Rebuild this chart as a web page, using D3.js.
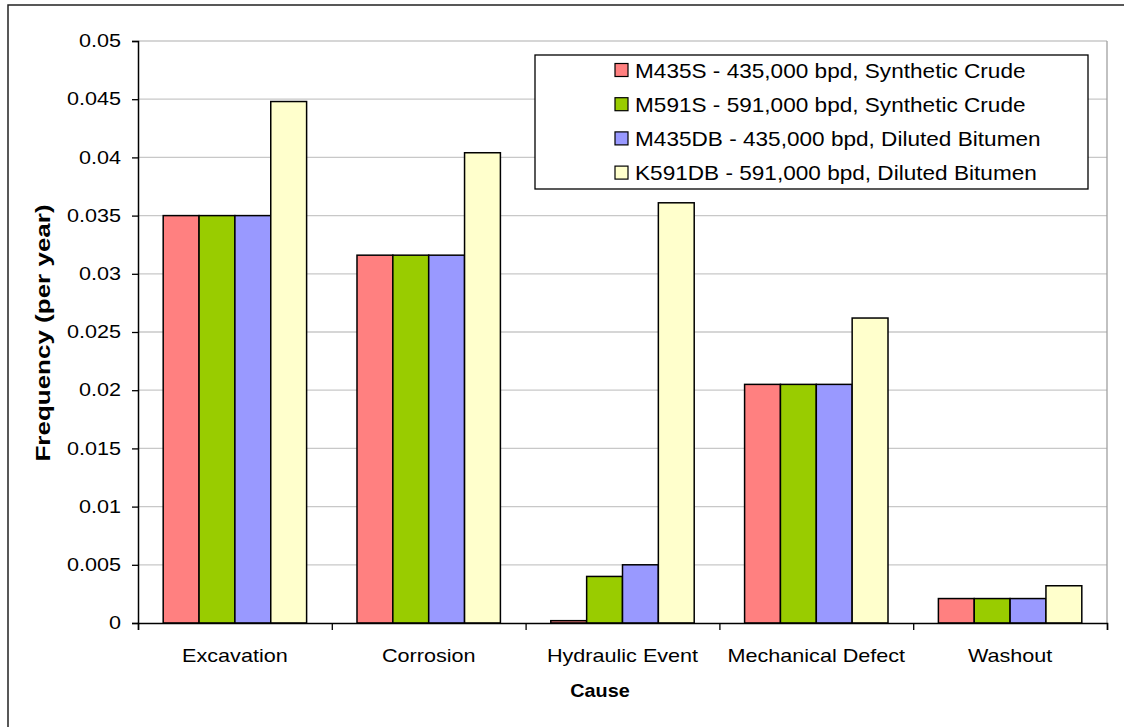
<!DOCTYPE html>
<html>
<head>
<meta charset="utf-8">
<script src="https://cdn.jsdelivr.net/npm/d3@7"></script>
<style>
html, body { margin: 0; padding: 0; background: #fff; }
svg { display: block; font-family: "Liberation Sans", Arial, sans-serif; }
</style>
</head>
<body>
<svg id="chart" width="1124" height="727"></svg>
<script>
// ---- data ----
const categories = ["Excavation", "Corrosion", "Hydraulic Event", "Mechanical Defect", "Washout"];
const seriesNames = [
  "M435S - 435,000 bpd, Synthetic Crude",
  "M591S - 591,000 bpd, Synthetic Crude",
  "M435DB - 435,000 bpd, Diluted Bitumen",
  "K591DB - 591,000 bpd, Diluted Bitumen"
];
const M435S  = [0.035, 0.0316, 0.0002, 0.0205, 0.0021];
const M591S  = [0.035, 0.0316, 0.0040, 0.0205, 0.0021];
const M435DB = [0.035, 0.0316, 0.0050, 0.0205, 0.0021];
const K591DB = [0.0448, 0.0404, 0.0361, 0.0262, 0.0032];
const yTicks = [0, 0.005, 0.01, 0.015, 0.02, 0.025, 0.03, 0.035, 0.04, 0.045, 0.05];
const yTickLabels = ["0", "0.005", "0.01", "0.015", "0.02", "0.025", "0.03", "0.035", "0.04", "0.045", "0.05"];
const colors = ["#FF8080", "#99CC00", "#9999FF", "#FFFFCC"];

const seriesValues = [M435S, M591S, M435DB, K591DB];

// ---- layout ----
const svg = d3.select("#chart");
const pL = 138, pR = 1107, pT = 41, pB = 623;
const SX = 1.2; // horizontal text stretch

// outer border
svg.append("rect")
  .attr("x", 8).attr("y", 5).attr("width", 1140).attr("height", 760)
  .attr("fill", "none").attr("stroke", "#222").attr("stroke-width", 1.5);

const x0 = d3.scaleBand().domain(categories).range([pL, pR])
  .paddingInner(0.26).paddingOuter(0.13);
const x1 = d3.scaleBand().domain(d3.range(seriesValues.length)).range([0, x0.bandwidth()]);
const y = d3.scaleLinear().domain([0, 0.05]).range([pB, pT]);

// gridlines
svg.append("g").selectAll("line").data(yTicks.slice(1)).join("line")
  .attr("x1", pL).attr("x2", pR)
  .attr("y1", d => y(d)).attr("y2", d => y(d))
  .attr("stroke", "#c8c8c8").attr("stroke-width", 1.3);
// right plot border
svg.append("line").attr("x1", pR).attr("x2", pR).attr("y1", pT).attr("y2", pB)
  .attr("stroke", "#a0a0a0").attr("stroke-width", 1.3);

// bars
const groups = svg.append("g").selectAll("g").data(categories).join("g")
  .attr("transform", d => `translate(${x0(d)},0)`);
groups.selectAll("rect")
  .data((c, ci) => seriesValues.map((s, si) => ({ si, v: s[ci] })))
  .join("rect")
  .attr("x", d => x1(d.si))
  .attr("width", x1.bandwidth())
  .attr("y", d => y(d.v))
  .attr("height", d => pB - y(d.v))
  .attr("fill", d => colors[d.si])
  .attr("stroke", "#000").attr("stroke-width", 1.5);

// y axis
const yAxis = svg.append("g").attr("transform", `translate(${pL},0)`)
  .call(d3.axisLeft(y).tickValues(yTicks).tickFormat((d, i) => yTickLabels[i]).tickSizeOuter(0).tickSize(6));
yAxis.select(".domain").attr("stroke", "#000").attr("stroke-width", 1.5);
yAxis.selectAll(".tick line").attr("stroke", "#000").attr("stroke-width", 1.3);
yAxis.selectAll(".tick text")
  .attr("x", 0).attr("font-size", 18).attr("fill", "#000")
  .attr("font-family", "Liberation Sans, Arial, sans-serif")
  .attr("transform", `translate(-17,0) scale(${SX},1)`);

// x axis (category boundaries as ticks)
const boundaries = d3.range(categories.length + 1);
const xb = d3.scaleLinear().domain([0, categories.length]).range([pL, pR]);
const xAxis = svg.append("g").attr("transform", `translate(0,${pB})`)
  .call(d3.axisBottom(xb).tickValues(boundaries).tickFormat("").tickSizeOuter(0).tickSize(7));
xAxis.select(".domain").attr("stroke", "#000").attr("stroke-width", 1.5);
xAxis.selectAll(".tick line").attr("stroke", "#000").attr("stroke-width", 1.3);

// category labels
svg.append("g").selectAll("text").data(categories).join("text")
  .attr("transform", d => `translate(${x0(d) + x0.bandwidth() / 2},${pB + 39}) scale(${SX},1)`)
  .attr("text-anchor", "middle").attr("font-size", 18).attr("fill", "#000")
  .text(d => d);

// axis titles
svg.append("text")
  .attr("transform", `translate(600,697) scale(1.1,1)`)
  .attr("text-anchor", "middle").attr("font-size", 18).attr("font-weight", "bold")
  .text("Cause");
svg.append("text")
  .attr("transform", `translate(50,333) rotate(-90) scale(1.3,1)`)
  .attr("text-anchor", "middle").attr("font-size", 20).attr("font-weight", "bold")
  .text("Frequency (per year)");

// legend
const lg = svg.append("g");
lg.append("rect").attr("x", 535).attr("y", 55).attr("width", 553).attr("height", 134)
  .attr("fill", "#fff").attr("stroke", "#000").attr("stroke-width", 1.3);
const items = lg.selectAll("g.item").data(seriesNames).join("g").attr("class", "item")
  .attr("transform", (d, i) => `translate(0,${70 + i * 34.2})`);
items.append("rect").attr("x", 615).attr("y", -6.5).attr("width", 13).attr("height", 13)
  .attr("fill", (d, i) => colors[i]).attr("stroke", "#000").attr("stroke-width", 1.2);
items.append("text")
  .attr("transform", `translate(635,7.5) scale(1.13,1)`)
  .attr("font-size", 20).attr("fill", "#000")
  .text(d => d);
</script>
</body>
</html>
